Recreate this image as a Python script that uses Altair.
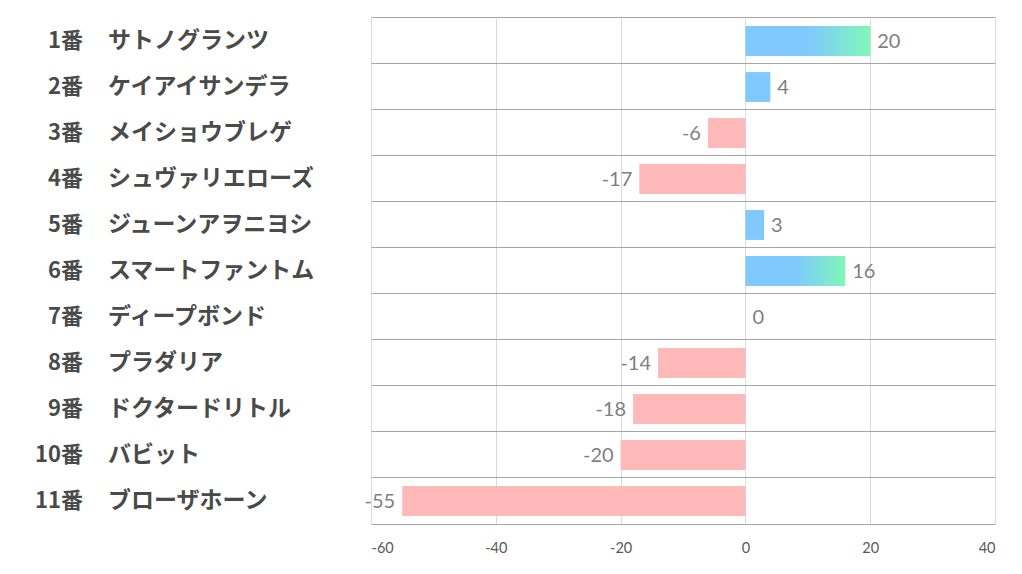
import altair as alt
import pandas as pd

numbers = ["1番", "2番", "3番", "4番", "5番", "6番", "7番", "8番", "9番", "10番", "11番"]
names = ["サトノグランツ", "ケイアイサンデラ", "メイショウブレゲ", "シュヴァリエローズ", "ジューンアヲニヨシ",
         "スマートファントム", "ディープボンド", "プラダリア", "ドクタードリトル", "バビット", "ブローザホーン"]
values = [20, 4, -6, -17, 3, 16, 0, -14, -18, -20, -55]
x_ticks = [-60, -40, -20, 0, 20, 40]

df = pd.DataFrame({"num": numbers, "name": names, "value": values})
df["key"] = df["num"]

JP = "Noto Sans CJK JP"
NUMF = "Lato"
PI = 0.35

y_enc = alt.Y("key:N", sort=numbers,
              scale=alt.Scale(paddingInner=PI, paddingOuter=PI / 2),
              axis=alt.Axis(title=None, labels=False, ticks=False, domain=False,
                            grid=True, gridColor="#a6a6a6", gridWidth=1,
                            bandPosition=-(PI / 2) / (1 - PI)))
x_enc = alt.X("value:Q", scale=alt.Scale(domain=[-60, 40], nice=False),
              axis=alt.Axis(title=None, values=x_ticks, grid=True, gridColor="#d9d9d9",
                            domainColor="#a6a6a6", ticks=False, labelPadding=17,
                            labelExpr="datum.value + ''",
                            labelFont=NUMF, labelFontSize=14.5, labelColor="#595959"))

base = alt.Chart(df).transform_calculate(label="datum.value + ''")

neg = base.transform_filter("datum.value < 0").mark_bar(color="#ffb9b9").encode(
    y=y_enc, x=x_enc, x2=alt.datum(0))
pos_small = base.transform_filter("datum.value > 0 && datum.value < 10").mark_bar(color="#80c9ff").encode(
    y=y_enc, x=x_enc, x2=alt.datum(0))
grad = alt.Gradient(gradient="linear", x1=0, x2=1, y1=0, y2=0,
                    stops=[alt.GradientStop(offset=0, color="#80c9ff"),
                           alt.GradientStop(offset=0.5, color="#80c9ff"),
                           alt.GradientStop(offset=1, color="#80f7b8")])
pos_big = base.transform_filter("datum.value >= 10").mark_bar(color=grad).encode(
    y=y_enc, x=x_enc, x2=alt.datum(0))

lab_pos = base.transform_filter("datum.value >= 0").mark_text(
    align="left", baseline="middle", dx=7, dy=1, font=NUMF, fontSize=20, color="#7f7f7f").encode(
    y=y_enc, x=x_enc, text=alt.Text("label:N"))
lab_neg = base.transform_filter("datum.value < 0").mark_text(
    align="right", baseline="middle", dx=-7, dy=1, font=NUMF, fontSize=20, color="#7f7f7f").encode(
    y=y_enc, x=x_enc, text=alt.Text("label:N"))

num_text = base.mark_text(align="right", baseline="middle", font=JP, fontWeight="bold",
                          fontSize=22, color="#4a4a4a").encode(
    y=y_enc, x=alt.value(-288), text="num:N")
name_text = base.mark_text(align="left", baseline="middle", font=JP, fontWeight="bold",
                           fontSize=23, color="#4a4a4a").encode(
    y=y_enc, x=alt.value(-263), text="name:N")

chart = alt.layer(neg, pos_small, pos_big, lab_pos, lab_neg, num_text, name_text).properties(
    width=624, height=506,
    autosize=alt.AutoSizeParams(type="none"),
    padding={"left": 363, "top": 10, "right": 19, "bottom": 42},
    background="white",
).configure_view(stroke=None)

chart.save("out.html", embed_options={"renderer": "svg", "actions": False})
